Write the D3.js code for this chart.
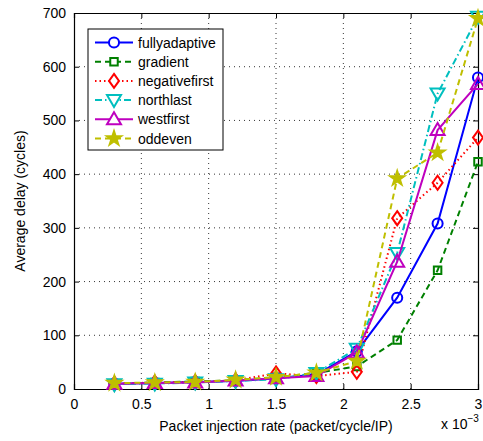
<!DOCTYPE html>
<html>
<head>
<meta charset="utf-8">
<script src="https://cdn.jsdelivr.net/npm/d3@7"></script>
<style>
  body { margin: 0; background: #fff; }
  text { font-family: "Liberation Sans", Arial, sans-serif; }
</style>
</head>
<body>
<svg id="chart"></svg>
<script>
const width = 483, height = 441;

// injection rate, x 10^-3
const rates = [0.3, 0.6, 0.9, 1.2, 1.5, 1.8, 2.1, 2.4, 2.7, 3.0];
const fullyadaptive = [10, 11, 13, 15, 20, 27, 70, 170, 308, 580];
const gradient      = [10, 12, 14, 16, 22, 30, 42, 91, 221, 423];
const negativefirst = [10, 12, 13, 16, 29, 24, 32, 318, 384, 468];
const northlast     = [9, 10, 12, 15, 18, 30, 75, 253, 550, 693];
const westfirst     = [10, 11, 12, 16, 20, 24, 68, 237, 482, 568];
const oddeven       = [11, 12, 13, 17, 22, 30, 52, 392, 440, 690];

const xTicks = [0, 0.5, 1, 1.5, 2, 2.5, 3];
const yTicks = [0, 100, 200, 300, 400, 500, 600, 700];

const series = [
  {name: "fullyadaptive", values: fullyadaptive, color: "#0000ff", dash: null, marker: "circle"},
  {name: "gradient", values: gradient, color: "#008000", dash: "6,4", marker: "square"},
  {name: "negativefirst", values: negativefirst, color: "#ff0000", dash: "1.5,3", marker: "diamond"},
  {name: "northlast", values: northlast, color: "#00bfbf", dash: "7,3,1.5,3", marker: "tridown"},
  {name: "westfirst", values: westfirst, color: "#bf00bf", dash: null, marker: "triup"},
  {name: "oddeven", values: oddeven, color: "#bfbf00", dash: "6,4", marker: "star"}
];

const margin = {left: 74, right: 5, top: 13, bottom: 52};
const iw = width - margin.left - margin.right;
const ih = height - margin.top - margin.bottom;

const svg = d3.select("#chart")
  .attr("width", width)
  .attr("height", height);
const g = svg.append("g")
  .attr("transform", `translate(${margin.left},${margin.top})`);

const x = d3.scaleLinear().domain([0, 3]).range([0, iw]);
const y = d3.scaleLinear().domain([0, 700]).range([ih, 0]);

// grid
g.selectAll(".vgrid").data(xTicks.slice(1, -1)).enter().append("line")
  .attr("x1", d => x(d)).attr("x2", d => x(d))
  .attr("y1", 0).attr("y2", ih)
  .attr("stroke", "#000").attr("stroke-width", 0.8).attr("stroke-dasharray", "1,4");
g.selectAll(".hgrid").data(yTicks.slice(1, -1)).enter().append("line")
  .attr("y1", d => y(d)).attr("y2", d => y(d))
  .attr("x1", 0).attr("x2", iw)
  .attr("stroke", "#000").attr("stroke-width", 0.8).attr("stroke-dasharray", "1,4");

// axes (ticks inside)
const xAxis = g.append("g")
  .attr("transform", `translate(0,${ih})`)
  .call(d3.axisBottom(x).tickValues(xTicks).tickSize(-5).tickPadding(10).tickFormat(d3.format("")));
const xTop = g.append("g")
  .call(d3.axisTop(x).tickValues(xTicks).tickSize(-5).tickFormat(""));
const yAxis = g.append("g")
  .call(d3.axisLeft(y).tickValues(yTicks).tickSize(-5).tickPadding(8));
const yRight = g.append("g")
  .attr("transform", `translate(${iw},0)`)
  .call(d3.axisRight(y).tickValues(yTicks).tickSize(-5).tickFormat(""));

[xAxis, xTop, yAxis, yRight].forEach(a => {
  a.select(".domain").attr("stroke", "#000").attr("stroke-width", 1.2);
  a.selectAll(".tick line").attr("stroke", "#000");
  a.selectAll("text").attr("font-size", 14).attr("fill", "#000")
    .attr("font-family", "'Liberation Sans', Arial, sans-serif");
});

// marker shapes
function markerPath(type) {
  if (type === "circle") return d3.symbol(d3.symbolCircle, 80)();
  if (type === "square") return d3.symbol(d3.symbolSquare, 56)();
  if (type === "diamond") return "M0,-7L5,0L0,7L-5,0Z";
  if (type === "tridown") return "M-7,-5L7,-5L0,7Z";
  if (type === "triup") return "M-7,5L7,5L0,-7Z";
  if (type === "star") return d3.symbol(d3.symbolStar, 75)();
}

const line = d3.line()
  .x((d, i) => x(rates[i]))
  .y(d => y(d));

series.forEach(s => {
  g.append("path")
    .datum(s.values)
    .attr("fill", "none")
    .attr("stroke", s.color)
    .attr("stroke-width", 2)
    .attr("stroke-dasharray", s.dash)
    .attr("d", line);
  g.selectAll(".m-" + s.name)
    .data(s.values)
    .enter().append("path")
    .attr("transform", (d, i) => `translate(${x(rates[i])},${y(d)})`)
    .attr("d", markerPath(s.marker))
    .attr("fill", s.marker === "star" ? s.color : "none")
    .attr("stroke", s.color)
    .attr("stroke-width", s.marker === "star" ? 1.5 : 2);
});

// legend
const legend = g.append("g").attr("transform", "translate(14,16)");
legend.append("rect")
  .attr("x", 0).attr("y", 0)
  .attr("width", 135).attr("height", 121)
  .attr("fill", "#fff").attr("stroke", "#000").attr("stroke-width", 1);
series.forEach((s, i) => {
  const ly = 13.5 + i * 19.2;
  legend.append("line")
    .attr("x1", 7).attr("x2", 45)
    .attr("y1", ly).attr("y2", ly)
    .attr("stroke", s.color).attr("stroke-width", 2)
    .attr("stroke-dasharray", s.dash);
  legend.append("path")
    .attr("transform", `translate(26,${ly})`)
    .attr("d", markerPath(s.marker))
    .attr("fill", s.marker === "star" ? s.color : "#fff")
    .attr("stroke", s.color)
    .attr("stroke-width", s.marker === "star" ? 1.5 : 2);
  legend.append("text")
    .attr("x", 50).attr("y", ly + 5)
    .attr("font-size", 14)
    .text(s.name);
});

// axis titles
svg.append("text")
  .attr("x", margin.left + iw / 2).attr("y", 431)
  .attr("text-anchor", "middle")
  .attr("font-size", 14)
  .text("Packet injection rate (packet/cycle/IP)");

const exp = svg.append("text")
  .attr("x", 441).attr("y", 429)
  .attr("font-size", 14);
exp.append("tspan").text("x 10");
exp.append("tspan").attr("dy", -7).attr("font-size", 10).text("\u22123");

svg.append("text")
  .attr("transform", `translate(25,${margin.top + ih / 2}) rotate(-90)`)
  .attr("text-anchor", "middle")
  .attr("font-size", 14)
  .text("Average delay (cycles)");
</script>
</body>
</html>
